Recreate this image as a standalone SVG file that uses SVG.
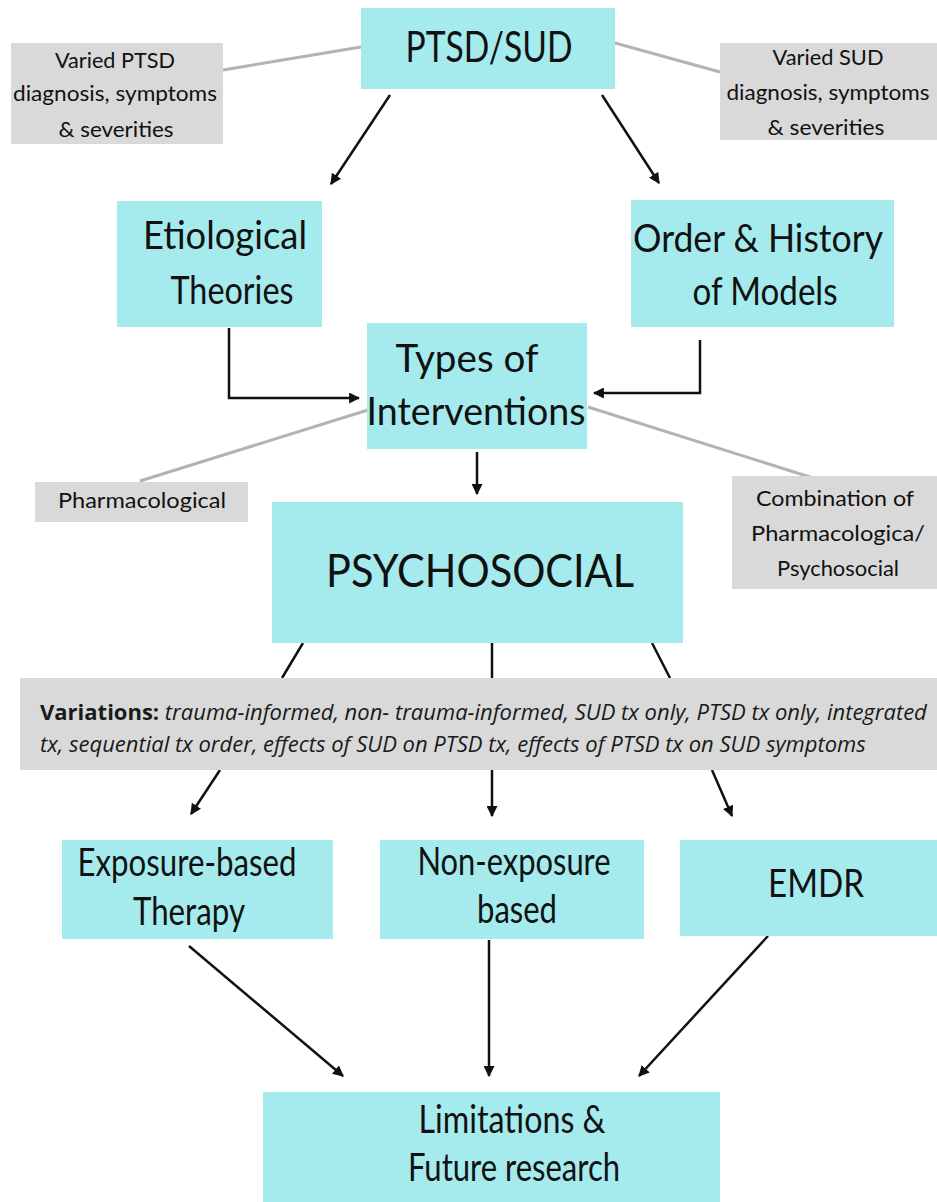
<svg xmlns="http://www.w3.org/2000/svg" width="937" height="1202" viewBox="0 0 937 1202">
<style>
.cy{fill:#a5ebee}
.gr{fill:#d9d9d9}
.t{font-family:Lato,"Open Sans","DejaVu Sans",sans-serif;fill:#111;text-anchor:middle}
.big{font-size:38px}
.sm{font-size:22px}
.gl{stroke:#b3b3b3;stroke-width:3;fill:none}
.ar{stroke:#111;stroke-width:2.5;fill:none}
.var{font-family:"Open Sans","DejaVu Sans",sans-serif;font-size:22px;fill:#1a1a1a}
</style>
<defs>
<marker id="ah" viewBox="0 0 10 10" refX="9" refY="5" markerWidth="11" markerHeight="11" markerUnits="userSpaceOnUse" orient="auto">
<path d="M0,0 L10,5 L0,10 z" fill="#111"/>
</marker>
</defs>
<rect width="937" height="1202" fill="#fff"/>
<g id="connectors">
<line class="gl" x1="223" y1="70" x2="361" y2="47"/>
<line class="gl" x1="615" y1="43" x2="720" y2="72"/>
<line class="gl" x1="368" y1="410" x2="140" y2="481"/>
<line class="gl" x1="588" y1="407" x2="810" y2="477"/>
<line class="ar" x1="390" y1="95" x2="331" y2="184" marker-end="url(#ah)"/>
<line class="ar" x1="602" y1="95" x2="659" y2="183" marker-end="url(#ah)"/>
<polyline class="ar" points="229,328 229,398 359,398" marker-end="url(#ah)"/>
<polyline class="ar" points="700,340 700,393 594,393" marker-end="url(#ah)"/>
<line class="ar" x1="477" y1="452" x2="477" y2="494" marker-end="url(#ah)"/>
<line class="ar" x1="303" y1="643" x2="282" y2="678"/>
<line class="ar" x1="492" y1="643" x2="492" y2="678"/>
<line class="ar" x1="652" y1="643" x2="670" y2="678"/>
<line class="ar" x1="220" y1="770" x2="191" y2="814" marker-end="url(#ah)"/>
<line class="ar" x1="492" y1="770" x2="492" y2="816" marker-end="url(#ah)"/>
<line class="ar" x1="712" y1="770" x2="732" y2="816" marker-end="url(#ah)"/>
<line class="ar" x1="189" y1="946" x2="343" y2="1076" marker-end="url(#ah)"/>
<line class="ar" x1="489" y1="940" x2="489" y2="1076" marker-end="url(#ah)"/>
<line class="ar" x1="768" y1="936" x2="639" y2="1076" marker-end="url(#ah)"/>
</g>
<g id="ptsd-sud">
<rect class="cy" x="361" y="8" width="254" height="81"/>
<text class="t" x="489" y="62" font-size="42" textLength="167" lengthAdjust="spacingAndGlyphs">PTSD/SUD</text>
</g>
<g id="varied-ptsd">
<rect class="gr" x="11" y="43" width="212" height="101"/>
<text class="t sm" x="115" y="68" textLength="120" lengthAdjust="spacingAndGlyphs">Varied PTSD</text>
<text class="t sm" x="115" y="101" textLength="204" lengthAdjust="spacingAndGlyphs">diagnosis, symptoms</text>
<text class="t sm" x="116" y="137" textLength="115" lengthAdjust="spacingAndGlyphs">&amp; severities</text>
</g>
<g id="varied-sud">
<rect class="gr" x="720" y="43" width="217" height="97"/>
<text class="t sm" x="828" y="65" textLength="111" lengthAdjust="spacingAndGlyphs">Varied SUD</text>
<text class="t sm" x="828" y="100" textLength="203" lengthAdjust="spacingAndGlyphs">diagnosis, symptoms</text>
<text class="t sm" x="826" y="135" textLength="117" lengthAdjust="spacingAndGlyphs">&amp; severities</text>
</g>
<g id="etiological">
<rect class="cy" x="117" y="201" width="205" height="126"/>
<text class="t big" x="225" y="249" textLength="164" lengthAdjust="spacingAndGlyphs">Etiological</text>
<text class="t big" x="232" y="304" textLength="123" lengthAdjust="spacingAndGlyphs">Theories</text>
</g>
<g id="order-history">
<rect class="cy" x="631" y="200" width="263" height="127"/>
<text class="t big" x="758" y="252" textLength="250" lengthAdjust="spacingAndGlyphs">Order &amp; History</text>
<text class="t big" x="765" y="305" textLength="145" lengthAdjust="spacingAndGlyphs">of Models</text>
</g>
<g id="types">
<rect class="cy" x="367" y="323" width="220" height="126"/>
<text class="t big" x="467" y="372" textLength="143" lengthAdjust="spacingAndGlyphs">Types of</text>
<text class="t big" x="476" y="425" textLength="219" lengthAdjust="spacingAndGlyphs">Interventions</text>
</g>
<g id="pharmacological">
<rect class="gr" x="35" y="482" width="213" height="40"/>
<text class="t sm" x="142" y="508" textLength="168" lengthAdjust="spacingAndGlyphs">Pharmacological</text>
</g>
<g id="combination">
<rect class="gr" x="732" y="476" width="205" height="113"/>
<text class="t sm" x="835" y="506" textLength="158" lengthAdjust="spacingAndGlyphs">Combination of</text>
<text class="t sm" x="838" y="541" textLength="174" lengthAdjust="spacingAndGlyphs">Pharmacologica/</text>
<text class="t sm" x="838" y="576" textLength="122" lengthAdjust="spacingAndGlyphs">Psychosocial</text>
</g>
<g id="psychosocial">
<rect class="cy" x="272" y="502" width="411" height="141"/>
<text class="t" x="480" y="587" font-size="46" textLength="308" lengthAdjust="spacingAndGlyphs">PSYCHOSOCIAL</text>
</g>
<g id="variations">
<rect class="gr" x="20" y="678" width="917" height="92"/>
<text class="var" x="40" y="720"><tspan font-weight="bold">Variations:</tspan><tspan font-style="italic"> trauma-informed, non- trauma-informed, SUD tx only, PTSD tx only, integrated</tspan></text>
<text class="var" x="40" y="752" font-style="italic">tx, sequential tx order, effects of SUD on PTSD tx, effects of PTSD tx on SUD symptoms</text>
</g>
<g id="exposure">
<rect class="cy" x="62" y="840" width="271" height="99"/>
<text class="t big" x="187" y="876" textLength="219" lengthAdjust="spacingAndGlyphs">Exposure-based</text>
<text class="t big" x="189" y="925" textLength="112" lengthAdjust="spacingAndGlyphs">Therapy</text>
</g>
<g id="non-exposure">
<rect class="cy" x="380" y="840" width="264" height="99"/>
<text class="t big" x="514" y="875" textLength="193" lengthAdjust="spacingAndGlyphs">Non-exposure</text>
<text class="t big" x="517" y="923" textLength="80" lengthAdjust="spacingAndGlyphs">based</text>
</g>
<g id="emdr">
<rect class="cy" x="680" y="840" width="257" height="96"/>
<text class="t big" x="816" y="897" textLength="96" lengthAdjust="spacingAndGlyphs">EMDR</text>
</g>
<g id="limitations">
<rect class="cy" x="263" y="1092" width="457" height="110"/>
<text class="t big" x="512" y="1133" textLength="187" lengthAdjust="spacingAndGlyphs">Limitations &amp;</text>
<text class="t big" x="514" y="1181" textLength="212" lengthAdjust="spacingAndGlyphs">Future research</text>
</g>
</svg>
